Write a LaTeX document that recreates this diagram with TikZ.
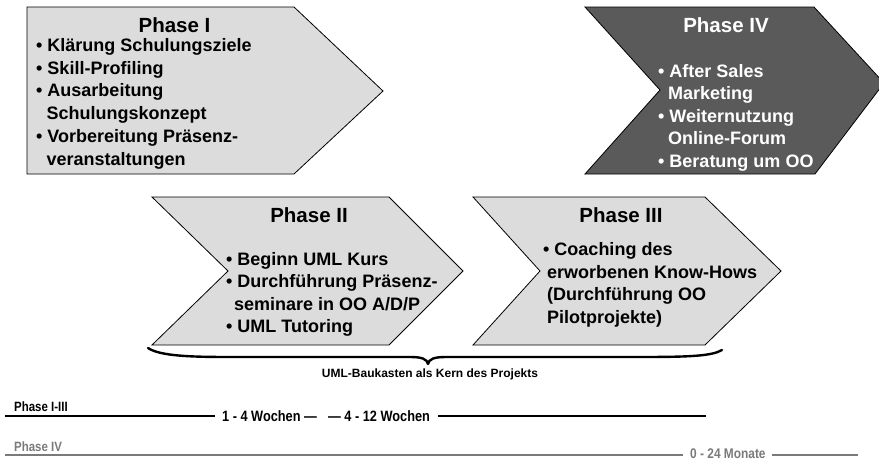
\documentclass[tikz,border=0pt]{standalone}
\usepackage{fontspec}
\setmainfont{Liberation Sans}
\newfontfamily\condfont[FakeStretch=0.85]{Liberation Sans}
\definecolor{lightfill}{HTML}{DCDCDC}
\definecolor{darkfill}{HTML}{5A5A5A}
\definecolor{tgray}{HTML}{7A7A7A}
\begin{document}
\begin{tikzpicture}[x=1pt,y=-1pt,
  phaselight/.style={draw=black, line width=0.8pt, fill=lightfill, line join=miter},
  phasedark/.style={draw=black, line width=0.8pt, fill=darkfill, line join=miter},
  ttl/.style={font=\bfseries\fontsize{20.5}{24}\selectfont, inner sep=0pt, anchor=base},
  itm/.style={font=\bfseries\fontsize{18}{22}\selectfont, inner sep=0pt, anchor=base west},
  wt/.style={text=white},
  bracelbl/.style={font=\bfseries\fontsize{12}{14}\selectfont, inner sep=0pt, anchor=base},
  tlabel/.style={font=\condfont\bfseries\fontsize{15}{16}\selectfont, inner sep=0pt, anchor=west},
  tname/.style={font=\condfont\bfseries\fontsize{13.5}{14}\selectfont, inner sep=0pt, anchor=base west},
  tline/.style={line width=1.2pt},
  bracestroke/.style={line width=2.4pt, line cap=round, line join=round}
]
\useasboundingbox (0,0) rectangle (879,461);
\clip (0,0) rectangle (879,461);

% Phase shapes
\draw[phaselight] (27,7) -- (294,7) -- (383,91) -- (294,174) -- (27,174) -- cycle;
\draw[phaselight] (152,197) -- (389,197) -- (463,271) -- (389,345) -- (152,345) -- (228,271) -- cycle;
\draw[phaselight] (473,197) -- (705,197) -- (781,271) -- (705,345) -- (473,345) -- (540,271) -- cycle;
\draw[phasedark] (585,7) -- (814,7) -- (884,83) -- (815,174) -- (585,174) -- (660,90) -- cycle;

% Phase I
\node[ttl] (t1) at (174.5,32) {Phase I};
\node[itm] (p1a) at (36,51) {• Klärung Schulungsziele};
\node[itm] (p1b) at (36,74) {• Skill-Profiling};
\node[itm] (p1c) at (36,96.5) {• Ausarbeitung};
\node[itm] (p1d) at (46.5,119) {Schulungskonzept};
\node[itm] (p1e) at (36,142) {• Vorbereitung Präsenz-};
\node[itm] (p1f) at (46.5,165) {veranstaltungen};

% Phase II
\node[ttl] (t2) at (309,222) {Phase II};
\node[itm] (p2a) at (226,265) {• Beginn UML Kurs};
\node[itm] (p2b) at (226,287.5) {• Durchführung Präsenz-};
\node[itm] (p2c) at (234,310) {seminare in OO A/D/P};
\node[itm] (p2d) at (226,332.5) {• UML Tutoring};

% Phase III
\node[ttl] (t3) at (621,222) {Phase III};
\node[itm] (p3a) at (543,255) {• Coaching des};
\node[itm] (p3b) at (547,278) {erworbenen Know-Hows};
\node[itm] (p3c) at (547,300.5) {(Durchführung OO};
\node[itm] (p3d) at (547,323) {Pilotprojekte)};

% Phase IV
\node[ttl,wt] (t4) at (726,32) {Phase IV};
\node[itm,wt] (p4a) at (658,77) {• After Sales};
\node[itm,wt] (p4b) at (668,99.5) {Marketing};
\node[itm,wt] (p4c) at (658,122) {• Weiternutzung};
\node[itm,wt] (p4d) at (668,144.5) {Online-Forum};
\node[itm,wt] (p4e) at (658,167) {• Beratung um OO};

% Brace
\draw[bracestroke] (148,348) .. controls (160,356) and (190,357) .. (230,357)
  -- (410,357) .. controls (422,357) and (427,359) .. (428,364)
  .. controls (429,359) and (434,357) .. (446,357)
  -- (640,357) .. controls (690,357) and (712,356) .. (722,350);
\node[bracelbl] (bl) at (430,377) {UML-Baukasten als Kern des Projekts};

% Timeline Phase I-III
\node[tname] (n1) at (14,411) {Phase I-III};
\coordinate (a1) at (5,416);
\coordinate (a2) at (215,416);
\draw[tline] (a1) -- (a2);
\node[tlabel] (w1) at (222,416) {1 - 4 Wochen —};
\node[tlabel] (w2) at (328,416) {— 4 - 12 Wochen};
\coordinate (b1) at (438,416);
\coordinate (b2) at (706,416);
\draw[tline] (b1) -- (b2);

% Timeline Phase IV
\node[tname,text=tgray] (n2) at (14,451) {Phase IV};
\coordinate (c1) at (5,455);
\coordinate (c2) at (683,455);
\draw[tline,draw=tgray] (c1) -- (c2);
\node[tlabel,text=tgray,font=\condfont\bfseries\fontsize{14}{15}\selectfont] (m1) at (690,453.5) {0 - 24 Monate};
\coordinate (d1) at (772,455);
\coordinate (d2) at (858,455);
\draw[tline,draw=tgray] (d1) -- (d2);
\end{tikzpicture}
\end{document}
